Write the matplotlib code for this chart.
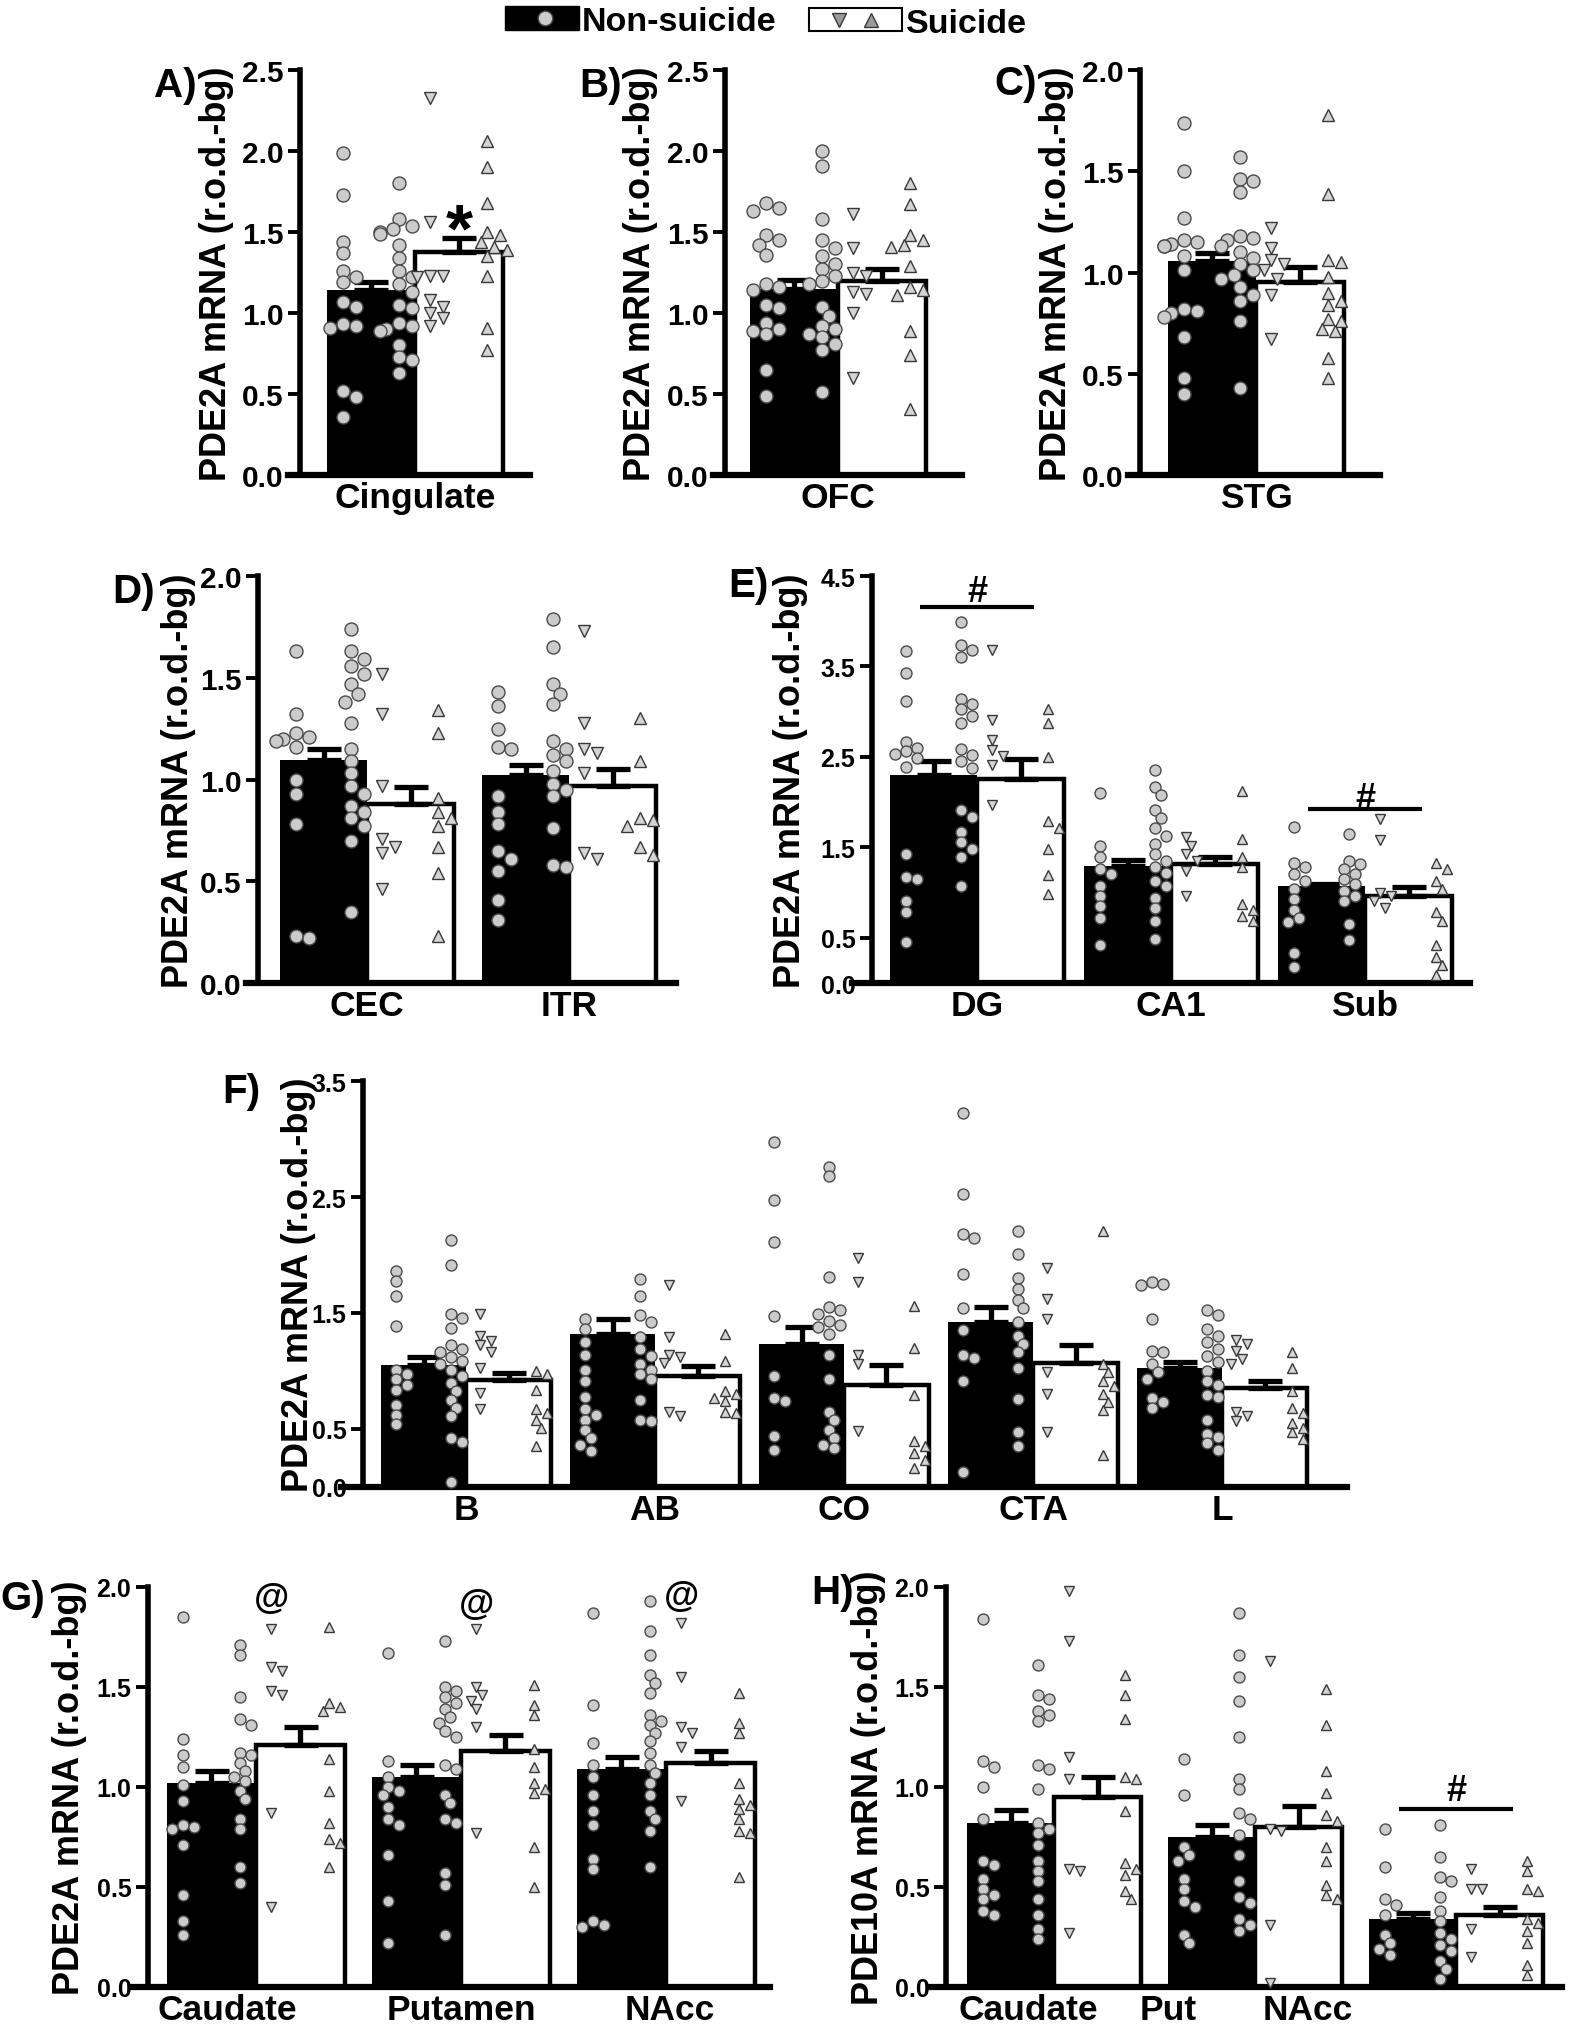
"""Rebuild the PDE2A / PDE10A mRNA bar chart figure (panels A-H)."""

import numpy as np
import matplotlib

matplotlib.use("Agg")
import matplotlib.pyplot as plt
from matplotlib import font_manager
from matplotlib.patches import Rectangle

FIG_W = 1570
FIG_H = 2040
DPI = 100
PT = 72 / DPI  # points per pixel

_FONTS = {f.name for f in font_manager.fontManager.ttflist}
FONT = "Liberation Sans" if "Liberation Sans" in _FONTS else "DejaVu Sans"
NARROW = "Liberation Sans Narrow" if "Liberation Sans Narrow" in _FONTS else FONT

plt.rcParams["font.family"] = FONT
plt.rcParams["font.weight"] = "bold"

LETTER_SIZE = 29
YLABEL_SIZE = 26
XLABEL_SIZE = 25.5
LEGEND_SIZE = 24.5
ANNOT_SIZE = 26

NS_FACE, NS_EDGE = "#cbcbcb", "#4a4a4a"
S_FACE, S_EDGE = "#d4d4d4", "#383838"

PDE2A = "PDE2A mRNA (r.o.d.-bg)"
PDE10A = "PDE10A mRNA (r.o.d.-bg)"

# ---------------- data ----------------
A_REGIONS = ["Cingulate"]
A_NS_MEAN, A_NS_SEM = [1.14], [0.05]
A_S_MEAN, A_S_SEM = [1.375], [0.085]
A_NS_LEFT = [[1.99, 1.73, 1.44, 1.37, 1.26, 1.22, 1.19, 1.07, 1.04, 0.93, 0.92, 0.91, 0.52, 0.48, 0.36]]
A_NS_RIGHT = [[1.80, 1.58, 1.54, 1.52, 1.50, 1.49, 1.42, 1.34, 1.26, 1.22, 1.18, 1.13, 1.05, 1.03,
               0.94, 0.92, 0.90, 0.89, 0.80, 0.73, 0.71, 0.63]]
A_S_DOWN = [[2.33, 1.56, 1.23, 1.23, 1.22, 1.08, 1.04, 1.00, 0.97, 0.92]]
A_S_UP = [[2.06, 1.90, 1.68, 1.50, 1.48, 1.44, 1.41, 1.39, 1.35, 1.23, 0.91, 0.77]]

B_REGIONS = ["OFC"]
B_NS_MEAN, B_NS_SEM = [1.15], [0.055]
B_S_MEAN, B_S_SEM = [1.195], [0.075]
B_NS_LEFT = [[1.68, 1.65, 1.63, 1.48, 1.45, 1.42, 1.36, 1.18, 1.16, 1.14, 1.05, 1.03, 0.94, 0.90,
              0.89, 0.87, 0.65, 0.49]]
B_NS_RIGHT = [[2.00, 1.91, 1.58, 1.45, 1.40, 1.35, 1.30, 1.27, 1.23, 1.20, 1.18, 1.04, 0.98, 0.92,
               0.90, 0.87, 0.85, 0.81, 0.77, 0.51]]
B_S_DOWN = [[1.61, 1.40, 1.25, 1.23, 1.13, 1.12, 1.00, 0.60]]
B_S_UP = [[1.80, 1.67, 1.48, 1.45, 1.42, 1.41, 1.29, 1.16, 1.14, 1.11, 0.89, 0.74, 0.41]]

C_REGIONS = ["STG"]
C_NS_MEAN, C_NS_SEM = [1.055], [0.04]
C_S_MEAN, C_S_SEM = [0.955], [0.07]
C_NS_LEFT = [[1.74, 1.50, 1.27, 1.16, 1.15, 1.14, 1.13, 1.13, 1.08, 1.01, 0.82, 0.81, 0.80, 0.78,
              0.68, 0.48, 0.40]]
C_NS_RIGHT = [[1.57, 1.46, 1.45, 1.40, 1.18, 1.17, 1.16, 1.13, 1.10, 1.07, 1.04, 1.01, 0.99, 0.97,
               0.93, 0.89, 0.86, 0.76, 0.43]]
C_S_DOWN = [[1.22, 1.12, 1.06, 1.04, 1.01, 0.97, 0.89, 0.67]]
C_S_UP = [[1.78, 1.39, 1.06, 1.05, 0.98, 0.90, 0.86, 0.84, 0.77, 0.76, 0.72, 0.71, 0.58, 0.48]]

D_REGIONS = ["CEC", "ITR"]
D_NS_MEAN, D_NS_SEM = [1.095, 1.02], [0.055, 0.05]
D_S_MEAN, D_S_SEM = [0.88, 0.97], [0.083, 0.08]
D_NS_LEFT = [[1.63, 1.32, 1.23, 1.21, 1.20, 1.19, 1.16, 1.00, 0.93, 0.78, 0.23, 0.22],
             [1.43, 1.36, 1.25, 1.16, 1.15, 0.92, 0.84, 0.78, 0.65, 0.61, 0.55, 0.41, 0.31]]
D_NS_RIGHT = [[1.74, 1.63, 1.59, 1.56, 1.52, 1.47, 1.42, 1.38, 1.28, 1.15, 1.09, 1.03, 0.97, 0.93,
               0.87, 0.84, 0.81, 0.77, 0.70, 0.35],
              [1.79, 1.65, 1.47, 1.42, 1.37, 1.19, 1.15, 1.12, 1.09, 1.04, 0.98, 0.95, 0.92, 0.76,
               0.58, 0.57]]
D_S_DOWN = [[1.52, 1.32, 0.97, 0.71, 0.67, 0.64, 0.46],
            [1.73, 1.28, 1.15, 1.13, 1.03, 0.64, 0.61]]
D_S_UP = [[1.34, 1.23, 0.91, 0.84, 0.81, 0.77, 0.67, 0.54, 0.23],
          [1.30, 1.09, 0.81, 0.80, 0.77, 0.67, 0.63]]

E_REGIONS = ["DG", "CA1", "Sub"]
E_NS_MEAN, E_NS_SEM = [2.30, 1.29, 1.07], [0.15, 0.07, 0.03]
E_S_MEAN, E_S_SEM = [2.26, 1.32, 0.96], [0.22, 0.07, 0.10]
E_NS_LEFT = [[3.67, 3.43, 3.12, 2.67, 2.60, 2.56, 2.53, 2.49, 2.39, 1.43, 1.17, 1.15, 0.91, 0.78, 0.45],
             [2.10, 1.51, 1.39, 1.26, 1.20, 1.07, 0.96, 0.85, 0.72, 0.42],
             [1.72, 1.33, 1.28, 1.20, 1.13, 1.04, 0.93, 0.81, 0.72, 0.67, 0.33, 0.18]]
E_NS_RIGHT = [[3.99, 3.74, 3.68, 3.60, 3.14, 3.08, 3.03, 2.95, 2.88, 2.59, 2.52, 2.45, 2.38, 1.91,
               1.84, 1.67, 1.56, 1.48, 1.39, 1.07],
              [2.36, 2.17, 2.08, 1.91, 1.82, 1.71, 1.63, 1.54, 1.43, 1.35, 1.28, 1.22, 1.13, 1.07,
               0.94, 0.83, 0.68, 0.49],
              [1.65, 1.35, 1.32, 1.26, 1.20, 1.15, 1.09, 1.02, 0.96, 0.91, 0.65, 0.48]]
E_S_DOWN = [[3.68, 2.91, 2.69, 2.58, 2.51, 2.41, 1.97],
            [1.61, 1.52, 1.43, 1.35, 1.24, 0.96],
            [1.81, 1.58, 1.00, 0.96, 0.91, 0.83]]
E_S_UP = [[3.03, 2.87, 2.50, 1.79, 1.71, 1.48, 1.19, 0.98],
          [2.12, 1.59, 1.39, 1.28, 0.87, 0.81, 0.74, 0.68],
          [1.33, 1.26, 1.13, 1.04, 0.78, 0.68, 0.42, 0.29, 0.20, 0.09]]

F_REGIONS = ["B", "AB", "CO", "CTA", "L"]
F_NS_MEAN, F_NS_SEM = [1.05, 1.32, 1.23, 1.42, 1.03], [0.07, 0.13, 0.15, 0.13, 0.05]
F_S_MEAN, F_S_SEM = [0.92, 0.96, 0.88, 1.07, 0.85], [0.065, 0.08, 0.17, 0.15, 0.065]
F_NS_LEFT = [[1.86, 1.78, 1.65, 1.39, 1.01, 0.97, 0.93, 0.88, 0.84, 0.71, 0.62, 0.54],
             [1.45, 1.36, 1.25, 1.14, 1.01, 0.91, 0.78, 0.67, 0.62, 0.58, 0.49, 0.42, 0.36, 0.31],
             [2.97, 2.47, 2.11, 1.47, 0.96, 0.77, 0.74, 0.44, 0.32],
             [3.22, 2.53, 2.18, 2.15, 1.84, 1.54, 1.35, 1.14, 1.11, 0.91, 0.13],
             [1.77, 1.75, 1.74, 1.45, 1.17, 1.16, 1.06, 0.99, 0.93, 0.77, 0.73, 0.68]]
F_NS_RIGHT = [[2.13, 1.91, 1.49, 1.46, 1.37, 1.22, 1.19, 1.16, 1.12, 1.09, 1.06, 1.01, 0.96, 0.90,
               0.83, 0.75, 0.68, 0.61, 0.42, 0.39, 0.04],
              [1.79, 1.65, 1.48, 1.42, 1.29, 1.19, 1.13, 1.06, 1.01, 0.97, 0.93, 0.75, 0.58, 0.57],
              [2.76, 2.68, 1.81, 1.55, 1.53, 1.49, 1.43, 1.40, 1.38, 1.32, 1.14, 0.93, 0.65, 0.58,
               0.49, 0.42, 0.36, 0.34],
              [2.21, 2.01, 1.80, 1.71, 1.61, 1.54, 1.42, 1.30, 1.23, 1.16, 1.03, 0.76, 0.47, 0.35],
              [1.53, 1.48, 1.36, 1.30, 1.25, 1.19, 1.13, 1.08, 1.00, 0.91, 0.88, 0.79, 0.78, 0.58,
               0.46, 0.43, 0.38, 0.32]]
F_S_DOWN = [[1.49, 1.30, 1.26, 1.22, 1.16, 1.03, 0.81, 0.67],
            [1.74, 1.29, 1.14, 1.12, 1.07, 0.65, 0.61],
            [1.97, 1.77, 1.14, 1.06, 0.48],
            [1.89, 1.62, 1.45, 0.99, 0.80, 0.47],
            [1.27, 1.23, 1.17, 1.10, 1.06, 0.65, 0.61, 0.57]]
F_S_UP = [[1.00, 0.97, 0.84, 0.67, 0.64, 0.58, 0.51, 0.35],
          [1.32, 1.09, 0.83, 0.80, 0.77, 0.74, 0.65, 0.64],
          [1.56, 1.20, 0.79, 0.40, 0.35, 0.29, 0.23, 0.16],
          [2.21, 1.06, 0.99, 0.91, 0.87, 0.80, 0.73, 0.66, 0.28],
          [1.16, 1.03, 0.83, 0.68, 0.64, 0.55, 0.51, 0.47, 0.41]]

G_REGIONS = ["Caudate", "Putamen", "NAcc"]
G_NS_MEAN, G_NS_SEM = [1.02, 1.05, 1.09], [0.06, 0.06, 0.06]
G_S_MEAN, G_S_SEM = [1.21, 1.18, 1.12], [0.09, 0.08, 0.06]
G_NS_LEFT = [[1.85, 1.24, 1.16, 1.10, 1.01, 0.93, 0.81, 0.80, 0.79, 0.71, 0.46, 0.33, 0.26],
             [1.67, 1.13, 1.05, 1.00, 0.98, 0.96, 0.90, 0.84, 0.81, 0.66, 0.43, 0.22],
             [1.87, 1.41, 1.22, 1.11, 1.05, 0.96, 0.88, 0.81, 0.64, 0.59, 0.33, 0.31, 0.30]]
G_NS_RIGHT = [[1.71, 1.66, 1.45, 1.34, 1.31, 1.17, 1.16, 1.12, 1.08, 1.05, 1.03, 0.98, 0.94, 0.84,
               0.79, 0.60, 0.52],
              [1.73, 1.50, 1.48, 1.45, 1.42, 1.39, 1.35, 1.32, 1.28, 1.25, 1.11, 1.09, 0.96, 0.92,
               0.84, 0.82, 0.57, 0.51, 0.26],
              [1.93, 1.78, 1.66, 1.56, 1.52, 1.47, 1.36, 1.33, 1.31, 1.27, 1.23, 1.17, 1.11, 1.07,
               1.02, 0.96, 0.88, 0.84, 0.78, 0.60]]
G_S_DOWN = [[1.79, 1.60, 1.58, 1.48, 1.46, 0.87, 0.40],
            [1.79, 1.50, 1.46, 1.43, 1.39, 1.30, 0.77],
            [1.82, 1.55, 1.30, 1.27, 1.20, 0.93]]
G_S_UP = [[1.80, 1.42, 1.40, 1.38, 1.14, 0.98, 0.82, 0.74, 0.72, 0.60],
          [1.51, 1.41, 1.36, 1.19, 1.10, 1.02, 0.99, 0.97, 0.70, 0.50],
          [1.47, 1.32, 1.27, 1.02, 0.94, 0.91, 0.89, 0.84, 0.78, 0.77, 0.55]]

H_REGIONS = ["Caudate", "Put", "NAcc"]
H_NS_MEAN, H_NS_SEM = [0.82, 0.75, 0.34], [0.065, 0.06, 0.03]
H_S_MEAN, H_S_SEM = [0.95, 0.80, 0.36], [0.10, 0.105, 0.04]
H_NS_LEFT = [[1.84, 1.13, 1.10, 1.00, 0.84, 0.63, 0.61, 0.54, 0.49, 0.46, 0.44, 0.38, 0.36],
             [1.14, 0.96, 0.70, 0.66, 0.63, 0.54, 0.49, 0.43, 0.40, 0.26, 0.22],
             [0.79, 0.60, 0.44, 0.41, 0.36, 0.26, 0.22, 0.19, 0.16]]
H_NS_RIGHT = [[1.61, 1.46, 1.44, 1.38, 1.36, 1.33, 1.11, 1.09, 0.99, 0.82, 0.79, 0.77, 0.71, 0.63,
               0.58, 0.53, 0.44, 0.36, 0.29, 0.24],
              [1.87, 1.66, 1.55, 1.43, 1.25, 1.04, 0.99, 0.87, 0.84, 0.76, 0.66, 0.53, 0.45, 0.42,
               0.34, 0.31, 0.28],
              [0.81, 0.65, 0.55, 0.53, 0.45, 0.38, 0.33, 0.27, 0.24, 0.21, 0.18, 0.13, 0.09, 0.04]]
H_S_DOWN = [[1.98, 1.73, 1.15, 1.04, 0.59, 0.58, 0.27],
            [1.63, 0.79, 0.78, 0.31, 0.02],
            [0.59, 0.49, 0.49, 0.29, 0.15]]
H_S_UP = [[1.56, 1.46, 1.34, 1.05, 1.04, 0.88, 0.62, 0.59, 0.56, 0.48, 0.44],
          [1.49, 1.31, 1.08, 0.97, 0.86, 0.83, 0.70, 0.63, 0.51, 0.46, 0.44],
          [0.63, 0.58, 0.49, 0.48, 0.34, 0.32, 0.28, 0.22, 0.11, 0.06]]

TICKS_2_5 = [0.0, 0.5, 1.0, 1.5, 2.0, 2.5]
TICKS_2_0 = [0.0, 0.5, 1.0, 1.5, 2.0]
TICKS_4_5 = [0.0, 0.5, 1.5, 2.5, 3.5, 4.5]
TICKS_3_5 = [0.0, 0.5, 1.5, 2.5, 3.5]


def _swarm(values, dx, dy):
    """Small horizontal nudges so overlapping dots stay visible."""
    placed, out = [], []
    for v in values:
        off = 0.0
        for k in (0, 1, -1, 2, -2, 3, -3):
            off = 0.5 * k * dx
            if all(((off - px) / dx) ** 2 + ((v - py) / dy) ** 2 >= 0.7 for px, py in placed):
                break
        placed.append((off, v))
        out.append(off)
    return np.array(out)


def _panel(fig, geo, regions, ns_mean, ns_sem, s_mean, s_sem,
           ns_left, ns_right, s_down, s_up, yticks, ylabel, letter,
           narrow=False, label_pos=None):
    left = geo["spine"] - geo["ext"]
    centre = geo["start"] + geo["bar"]
    step = geo["step"]
    height_px = geo["zero"] - geo["top"]
    ax = fig.add_axes([left / FIG_W, 1 - geo["zero"] / FIG_H,
                       (geo["end"] - left) / FIG_W, height_px / FIG_H])
    ymax = yticks[-1]
    ax.set_xlim((left - centre) / step, (geo["end"] - centre) / step)
    ax.set_ylim(0, ymax)

    w = geo["bar"] / step
    x = np.arange(len(regions))
    zeros = np.zeros(len(regions))
    ax.bar(x - w, ns_mean, w, align="edge", color="black", linewidth=0, zorder=2)
    ax.bar(x, s_mean, w, align="edge", color="white", edgecolor="black",
           linewidth=3.2, zorder=2)
    err = dict(fmt="none", ecolor="black", elinewidth=3.8, capsize=12.5,
               capthick=3.8, zorder=3)
    ax.errorbar(x - w / 2, ns_mean, yerr=[zeros, ns_sem], **err)
    ax.errorbar(x + w / 2, s_mean, yerr=[zeros, s_sem], **err)

    diam = geo["marker"]
    dx = diam / step
    dy = diam * ymax / height_px
    columns = [(-0.82 * w, ns_left, "o", NS_FACE, NS_EDGE, 1.0),
               (-0.18 * w, ns_right, "o", NS_FACE, NS_EDGE, 1.0),
               (0.17 * w, s_down, "v", S_FACE, S_EDGE, 0.95),
               (0.82 * w, s_up, "^", S_FACE, S_EDGE, 0.95)]
    for off, series, marker, face, edge, scale in columns:
        for i, vals in enumerate(series):
            vals = np.asarray(vals)
            xs = x[i] + off + _swarm(vals, dx, dy)
            ax.plot(xs, vals, ls="none", marker=marker, ms=diam * PT * scale,
                    mfc=face, mec=edge, mew=1.0, zorder=4, clip_on=False)

    for side in ("top", "right"):
        ax.spines[side].set_visible(False)
    ax.spines["left"].set_position(("data", (geo["spine"] - centre) / step))
    ax.spines["left"].set_bounds(0, ymax)
    ax.spines["left"].set_linewidth(4)
    ax.spines["bottom"].set_linewidth(4.5)
    ax.patch.set_visible(False)

    tick_font = NARROW if narrow else FONT
    ax.set_yticks(yticks, labels=[f"{t:.1f}" for t in yticks],
                  fontfamily=tick_font, fontsize=18 if narrow else 21.5,
                  fontweight="bold")
    ax.tick_params(axis="y", direction="out", length=9, width=2.8, pad=3)
    ax.set_xticks(x if label_pos is None else label_pos, labels=regions,
                  fontsize=XLABEL_SIZE, fontweight="bold")
    ax.tick_params(axis="x", length=0, pad=4)

    mid = 1 - (geo["top"] + geo["zero"]) / 2 / FIG_H
    fig.text(geo["ylab"] / FIG_W, mid, ylabel, rotation=90, ha="center",
             va="center", fontsize=YLABEL_SIZE, fontweight="bold")
    fig.text((geo["spine"] - geo["lgap"]) / FIG_W, 1 - geo["letter_y"] / FIG_H,
             letter, ha="right", va="center", fontsize=LETTER_SIZE, fontweight="bold")
    return ax, w


def _mark(ax, x, y, text, centre_em, size=ANNOT_SIZE):
    # y is where the middle of the glyph should sit
    ax.annotate(text, (x, y), xytext=(0, -centre_em * size), textcoords="offset points",
                ha="center", va="baseline", fontsize=size, fontweight="bold",
                annotation_clip=False, zorder=5)


def _bracket(ax, x, y, half):
    ax.plot([x - half, x + half], [y, y], color="black", lw=3, zorder=5,
            solid_capstyle="butt", clip_on=False)


def _geo(spine, start, bar, step, end, top, zero, ylab, letter_y,
         ext=12, marker=13, lgap=103):
    return dict(spine=spine, start=start, bar=bar, step=step, end=end, top=top,
                zero=zero, ylab=ylab, letter_y=letter_y, ext=ext, marker=marker,
                lgap=lgap)


def main():
    fig = plt.figure(figsize=(FIG_W / DPI, FIG_H / DPI), dpi=DPI)

    ax, w = _panel(fig, _geo(300, 327, 88, 200, 530, 71, 476, 216, 86),
                   A_REGIONS, A_NS_MEAN, A_NS_SEM, A_S_MEAN, A_S_SEM,
                   A_NS_LEFT, A_NS_RIGHT, A_S_DOWN, A_S_UP, TICKS_2_5, PDE2A, "A)")
    _mark(ax, w / 2, 1.63, "*", 0.575, size=50)

    _panel(fig, _geo(725, 750, 88, 200, 962, 71, 476, 641, 86),
           B_REGIONS, B_NS_MEAN, B_NS_SEM, B_S_MEAN, B_S_SEM,
           B_NS_LEFT, B_NS_RIGHT, B_S_DOWN, B_S_UP, TICKS_2_5, PDE2A, "B)")

    _panel(fig, _geo(1140, 1168, 88, 200, 1380, 71, 476, 1057, 84),
           C_REGIONS, C_NS_MEAN, C_NS_SEM, C_S_MEAN, C_S_SEM,
           C_NS_LEFT, C_NS_RIGHT, C_S_DOWN, C_S_UP, TICKS_2_0, PDE2A, "C)")

    _panel(fig, _geo(258, 280, 87, 202, 676, 577, 984, 179, 592),
           D_REGIONS, D_NS_MEAN, D_NS_SEM, D_S_MEAN, D_S_SEM,
           D_NS_LEFT, D_NS_RIGHT, D_S_DOWN, D_S_UP, TICKS_2_0, PDE2A, "D)")

    ax, w = _panel(fig, _geo(872, 890, 87, 194, 1470, 577, 984, 790, 586,
                             ext=20, marker=11),
                   E_REGIONS, E_NS_MEAN, E_NS_SEM, E_S_MEAN, E_S_SEM,
                   E_NS_LEFT, E_NS_RIGHT, E_S_DOWN, E_S_UP, TICKS_4_5, PDE2A, "E)",
                   narrow=True)
    _bracket(ax, 0, 4.16, 0.65 * w)
    _mark(ax, 0, 4.36, "#", 0.35)
    _bracket(ax, 2, 1.92, 0.65 * w)
    _mark(ax, 2, 2.08, "#", 0.35)

    _panel(fig, _geo(363, 381, 85, 189, 1347, 1082, 1488, 298, 1092,
                     ext=22, marker=11),
           F_REGIONS, F_NS_MEAN, F_NS_SEM, F_S_MEAN, F_S_SEM,
           F_NS_LEFT, F_NS_RIGHT, F_S_DOWN, F_S_UP, TICKS_3_5, PDE2A, "F)",
           narrow=True)

    ax, w = _panel(fig, _geo(148, 167, 89, 205, 770, 1588, 1988, 70, 1599,
                             ext=17, marker=11),
                   G_REGIONS, G_NS_MEAN, G_NS_SEM, G_S_MEAN, G_S_SEM,
                   G_NS_LEFT, G_NS_RIGHT, G_S_DOWN, G_S_UP, TICKS_2_0, PDE2A, "G)",
                   narrow=True, label_pos=[-0.14, 1.0, 2.02])
    for i, y in enumerate([1.94, 1.91, 1.95]):
        _mark(ax, i + 0.17 * w, y, "@", 0.26)

    ax, w = _panel(fig, _geo(946, 967, 87, 201, 1562, 1588, 1988, 868, 1593,
                             ext=17, marker=11, lgap=92),
                   H_REGIONS, H_NS_MEAN, H_NS_SEM, H_S_MEAN, H_S_SEM,
                   H_NS_LEFT, H_NS_RIGHT, H_S_DOWN, H_S_UP, TICKS_2_0, PDE10A, "H)",
                   narrow=True, label_pos=[-0.13, 0.57, 1.26])
    _bracket(ax, 2, 0.89, 0.65 * w)
    _mark(ax, 2, 1.0, "#", 0.35)

    # legend drawn by hand in pixel space on a transparent overlay
    lg = fig.add_axes([0, 0, 1, 1])
    lg.set_xlim(0, FIG_W)
    lg.set_ylim(FIG_H, 0)
    lg.axis("off")
    lg.add_patch(Rectangle((505, 7), 74, 24, facecolor="black", edgecolor="black"))
    lg.plot([545], [19], ls="none", marker="o", ms=10.5, mfc=NS_FACE, mec=NS_EDGE)
    lg.add_patch(Rectangle((809, 9), 93, 23, facecolor="white", edgecolor="black", lw=1.5))
    lg.plot([839], [20.5], ls="none", marker="v", ms=10, mfc="#9a9a9a", mec=S_EDGE)
    lg.plot([871], [20.5], ls="none", marker="^", ms=10, mfc="#9a9a9a", mec=S_EDGE)
    em = LEGEND_SIZE / PT
    lg.text(582, 19 + 0.36 * em, "Non-suicide", ha="left", va="baseline",
            fontsize=LEGEND_SIZE, fontweight="bold")
    lg.text(906, 21 + 0.36 * em, "Suicide", ha="left", va="baseline",
            fontsize=LEGEND_SIZE, fontweight="bold")

    fig.savefig("out.png", dpi=DPI)
    plt.close(fig)


if __name__ == "__main__":
    main()
